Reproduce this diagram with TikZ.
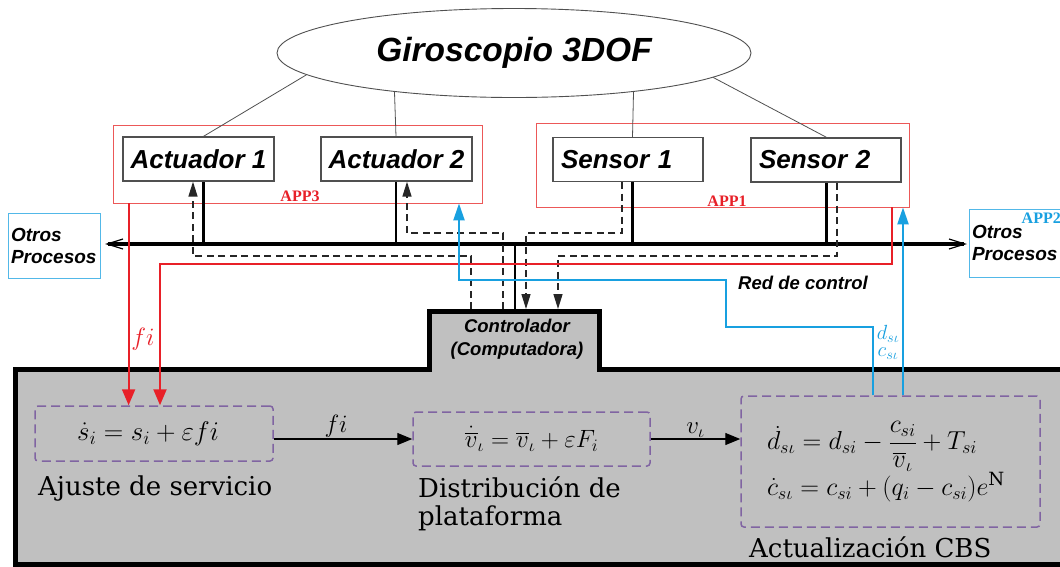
\RequirePackage{fix-cm}
\documentclass[tikz,border=0pt]{standalone}
\usepackage{amsmath}
\usepackage{fontspec}
\setmainfont{DejaVu Serif}
\newfontfamily\labelsans{Liberation Sans}
\newfontfamily\tagserif{Liberation Serif}
\usetikzlibrary{arrows.meta,shapes.geometric}

\definecolor{appred}{RGB}{236,88,88}
\definecolor{linkred}{RGB}{232,32,40}
\definecolor{linkblue}{RGB}{24,160,224}
\definecolor{boxpurple}{RGB}{128,100,162}
\definecolor{panelgray}{RGB}{192,192,192}
\definecolor{edgegray}{RGB}{80,80,80}

\begin{document}
\begin{tikzpicture}[x=1pt,y=-1pt,
  gyrostyle/.style={ellipse, draw=edgegray, line width=0.9pt, fill=white,
    minimum width=474pt, minimum height=89pt, inner sep=0pt,
    font=\labelsans\bfseries\itshape\fontsize{33.5}{40}\selectfont},
  device/.style={draw=edgegray, line width=1.3pt, fill=white,
    minimum width=151pt, minimum height=44pt, inner sep=0pt,
    font=\labelsans\bfseries\itshape\fontsize{26}{30}\selectfont},
  sensorbox/.style={device, minimum width=150pt, text width=134pt,
    align=left, inner xsep=8pt},
  appframe/.style={draw=appred, line width=0.8pt},
  apptag/.style={inner sep=0pt, font=\tagserif\bfseries\fontsize{16}{18}\selectfont},
  otherbox/.style={draw=linkblue!75, line width=0.8pt, align=left, inner ysep=0pt,
    font=\labelsans\bfseries\itshape\fontsize{19}{22}\selectfont},
  bus/.style={line width=4.5pt,
    {Straight Barb[length=16pt,width=10pt,line width=1.2pt]}-{Straight Barb[length=16pt,width=10pt,line width=1.2pt]}},
  tap/.style={line width=2.6pt},
  gyroline/.style={draw=edgegray, line width=0.8pt},
  ret/.style={draw=black!85, line width=1.4pt, dash pattern=on 7pt off 4.5pt,
    -{Triangle[length=15pt,width=9pt]}},
  redlink/.style={draw=linkred, line width=2pt, -{Triangle[length=16pt,width=13pt]}},
  bluelink/.style={draw=linkblue, line width=2.2pt, -{Triangle[length=17pt,width=11pt]}},
  panel/.style={fill=panelgray, draw=black, line width=5pt},
  stage/.style={draw=boxpurple, line width=1.5pt, dash pattern=on 9pt off 5pt,
    rounded corners=3pt, inner sep=0pt, font=\fontsize{27}{32}\selectfont},
  flow/.style={line width=1.3pt, -{Triangle[length=15pt,width=12pt]}},
  eqlabel/.style={font=\fontsize{25}{30}\selectfont, inner sep=1pt},
  bluetag/.style={text=linkblue, inner sep=0pt, font=\fontsize{20.5}{24}\selectfont},
  caption/.style={inner sep=0pt, font=\fontsize{26}{28}\selectfont},
  ctrltext/.style={inner sep=0pt, align=center,
    font=\labelsans\bfseries\itshape\fontsize{18.5}{22.5}\selectfont}
]
\useasboundingbox (0,0) rectangle (1060,566);
\clip (0,0) rectangle (1060,566);
\fill[white] (0,0) rectangle (1060,566);

% process panel with the controller tab
\draw[panel] (15,369) -- (429.5,369) -- (429.5,311.5) -- (599.5,311.5)
  -- (599.5,369) -- (1068,369) -- (1068,564) -- (15,564) -- cycle;
\node[ctrltext] (ctrl) at (517,339) {Controlador\\(Computadora)};
\coordinate (c1) at (471,309);
\coordinate (c2) at (503,309);
\coordinate (c3) at (526,309);
\coordinate (c4) at (558,309);
\coordinate (cbus) at (515,310);

% gyroscope, application frames and devices
\node[gyrostyle] (gyro) at (514,53) {Giroscopio 3DOF};
\node[appframe, minimum width=369pt, minimum height=78pt] (app3) at (297.5,164) {};
\node[appframe, minimum width=373pt, minimum height=84pt] (app1) at (722.5,165) {};
\node[device] (act1) at (198.5,159) {Actuador 1};
\node[device] (act2) at (396.5,159) {Actuador 2};
\node[sensorbox] (sen1) at (628,159.5) {Sensor 1};
\node[sensorbox] (sen2) at (826,160) {Sensor 2};
\node[apptag, text=linkred] at (300,196) {APP3};
\node[apptag, text=linkred] at (727,201) {APP1};

% other processes on the network
\node[otherbox, minimum width=92pt, minimum height=65pt, text width=86pt, inner xsep=3pt] (othL) at (54,245.5) {Otros\\Procesos};
\node[otherbox, minimum width=93pt, minimum height=68pt, text width=87pt, inner xsep=3pt] (othR) at (1015.5,243) {Otros\\Procesos};
\node[apptag, text=linkblue, anchor=east] at (1061,218) {APP2};

% control network bus
\coordinate (busL) at (105,244);
\coordinate (busR) at (967,244);
\coordinate (t1) at (203.5,244);
\coordinate (t2) at (396,244);
\coordinate (t3) at (632.5,244);
\coordinate (t4) at (826.5,244);
\coordinate (tc) at (515,244);
\draw[bus] (busL) -- (busR);
\draw[tap] (t1) -- (t1 |- act1.south);
\draw[tap] (t2) -- (t2 |- act2.south);
\draw[tap] (t3) -- (t3 |- sen1.south);
\draw[tap] (t4) -- (t4 |- sen2.south);
\draw[tap] (tc) -- (cbus);
\node[ctrltext, anchor=base west] (net) at (738,289) {Red de control};

% gyroscope links
\draw[gyroline] (gyro.186.6) -- (t1 |- act1.north);
\draw[gyroline] (gyro.198.1) -- (t2 |- act2.north);
\draw[gyroline] (gyro.342.1) -- (t3 |- sen1.north);
\draw[gyroline] (gyro.353.8) -- (t4 |- sen2.north);

% network messages
\draw[ret] (c1) |- (193,256) -- ([xshift=-5.5pt]act1.south);
\draw[ret] (c2) |- (407,233) -- ([xshift=10.5pt]act2.south);
\draw[ret] ([xshift=-6pt]sen1.south) |- (526,233) -- (c3);
\draw[ret] ([xshift=11pt]sen2.south) |- (558,256) -- (c4);

% stages of the algorithm
\node[stage, minimum width=238pt, minimum height=55pt] (ajuste) at (154,433.5)
  {$\dot{s}_i = s_i + \varepsilon f i$\hspace*{12pt}};
\node[stage, minimum width=237pt, minimum height=54pt, font=\fontsize{25}{30}\selectfont] (distrib) at (531.5,439)
  {$\dot{\overline{v}}_\iota = \overline{v}_\iota + \varepsilon F_i$};
\node[stage, minimum width=299pt, minimum height=131pt, text width=273pt,
  inner xsep=13pt, align=left, font=\fontsize{26}{30}\selectfont] (actual) at (890.5,461.5)
  {\hspace*{13pt}$\dot{d}_{s\iota} = d_{si} - \dfrac{c_{si}}{\overline{v}_\iota} + T_{si}$\\[0pt]
   \hspace*{13pt}$\dot{c}_{s\iota} = c_{si} + (q_i - c_{si})e^{\mathrm{N}}$};
\node[caption, anchor=base west] at (38,495) {Ajuste de servicio};
\node[caption, anchor=north west, align=left] at (418,476) {Distribución de\\plataforma};
\node[caption, anchor=base west] at (749,557) {Actualización CBS};

\draw[flow] (ajuste.east |- distrib.west) -- node[eqlabel, pos=0.45, above] {$fi$} (distrib.west);
\draw[flow] (distrib.east) -- node[eqlabel, midway, above] {$v_\iota$} (distrib.east -| actual.west);

% application 3 links (red)
\coordinate (r1) at ([xshift=16pt]app3.south west);
\coordinate (r2) at (160,264);
\draw[redlink] (r1) -- (r1 |- ajuste.north);
\draw[redlink] ([xshift=-17pt]app1.south east) |- (r2) -- (r2 |- ajuste.north);
\node[eqlabel, text=linkred] at (143,339) {$fi$};

% application 2 links (blue)
\coordinate (b1) at (459,280);
\draw[bluelink] ([xshift=-17.5pt]actual.north) |- (726,327) |- (b1) -- (b1 |- app3.south);
\draw[bluelink] ([xshift=12.5pt]actual.north) -- ([xshift=12.5pt]actual.north |- app1.south);
\node[bluetag] at (888,334) {$d_{s\iota}$};
\node[bluetag] at (888,354) {$c_{s\iota}$};
\end{tikzpicture}
\end{document}
